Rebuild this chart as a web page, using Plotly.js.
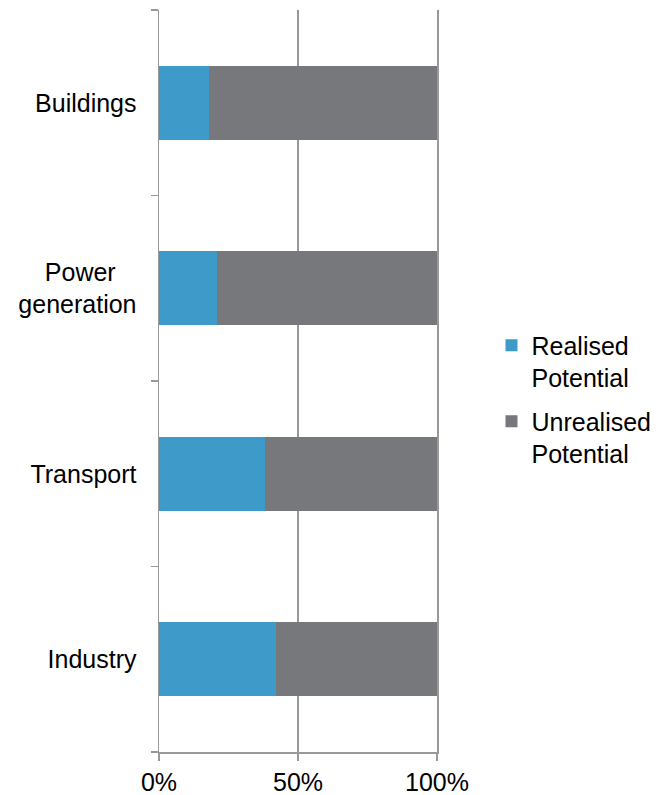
<!DOCTYPE html>
<html>
<head>
<meta charset="utf-8">
<script src="https://cdn.plot.ly/plotly-3.0.1.min.js"></script>
<style>html,body{margin:0;padding:0;background:#fff;}#chart{width:664px;height:795px;}</style>
</head>
<body>
<div id="chart"></div>
<script>
var categories = ['Buildings', 'Power generation', 'Transport', 'Industry'];
var categoryLabels = ['Buildings', 'Power\u00a0\u00a0\u00a0<br>generation', 'Transport', 'Industry'];
var realised = [18, 21, 38, 42];
var unrealised = [82, 79, 62, 58];
var seriesNames = ['Realised<br>Potential', 'Unrealised<br>Potential'];
var xTickValues = [0, 50, 100];
var xTickLabels = ['0%', '50%', '100%'];

var font = {family: 'Arial, "Liberation Sans", sans-serif', size: 25, color: '#000'};

var data = [
  {type: 'bar', orientation: 'h', y: categories, x: realised, name: seriesNames[0], legendgroup: 'a',
   marker: {color: '#3E9AC9'}, hoverinfo: 'x+y'},
  {type: 'bar', orientation: 'h', y: categories, x: unrealised, name: seriesNames[1], legendgroup: 'b',
   marker: {color: '#77787B'}, hoverinfo: 'x+y'}
];

var layout = {
  width: 664, height: 795,
  margin: {l: 159, r: 227, t: 10, b: 43, autoexpand: false},
  paper_bgcolor: '#fff', plot_bgcolor: '#fff',
  barmode: 'stack',
  bargap: 0.6,
  font: font,
  showlegend: true,
  legend: {x: 1.196, xanchor: 'left', y: 0.579, yanchor: 'top', traceorder: 'grouped',
           valign: 'top', tracegroupgap: 8,
           font: font, bgcolor: 'rgba(0,0,0,0)'},
  xaxis: {range: [0, 100], tickvals: xTickValues, ticktext: xTickLabels,
          showgrid: true, gridcolor: '#999', gridwidth: 1.5,
          showline: true, linecolor: '#999', linewidth: 1.5,
          ticks: 'outside', ticklen: 7, tickcolor: '#999', tickwidth: 1.5,
          zeroline: false, fixedrange: true, tickfont: font},
  yaxis: {type: 'category', autorange: 'reversed', categoryorder: 'array', categoryarray: categories,
          tickvals: categories, ticktext: categoryLabels,
          tickson: 'boundaries', ticks: 'outside', ticklen: 7, tickcolor: '#999', tickwidth: 1.5,
          ticklabelstandoff: 16,
          showline: true, mirror: true, linecolor: '#999', linewidth: 1.5, showgrid: false,
          zeroline: false, fixedrange: true, tickfont: font}
};

Plotly.newPlot('chart', data, layout, {displayModeBar: false, staticPlot: true});
</script>
</body>
</html>
